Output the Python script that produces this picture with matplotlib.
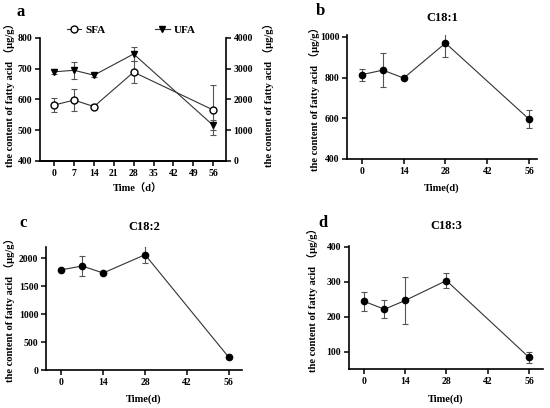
import matplotlib
matplotlib.use("Agg")
import matplotlib.pyplot as plt
import numpy as np

plt.rcParams['font.family'] = ['Liberation Serif', 'Noto Sans CJK SC', 'DejaVu Sans']
plt.rcParams['font.weight'] = 'bold'

# data
days = [0, 7, 14, 28, 56]
sfa = [582, 598, 577, 689, 566]
sfa_err = [24, 35, 8, 35, 80]
ufa = [2900, 2950, 2790, 3480, 1160]
ufa_err = [80, 280, 60, 230, 160]
c181 = [815, 837, 798, 970, 596]
c181_err = [30, 82, 6, 70, 45]
c182 = [1792, 1860, 1735, 2062, 225]
c182_err = [20, 180, 15, 150, 15]
c183 = [244, 221, 246, 303, 83]
c183_err = [27, 26, 68, 21, 17]

ylab = "the content of fatty acid （μg/g）"
fs = 7
lfs = 7.6
lc = '#333333'
ec = '#555555'

def style(ax, spines=('left', 'bottom')):
    for s in ['left', 'right', 'top', 'bottom']:
        if s in spines:
            ax.spines[s].set_linewidth(1.2)
        else:
            ax.spines[s].set_visible(False)
    ax.tick_params(direction='out', length=3.5, width=1.1, labelsize=fs, pad=2)
    for t in ax.get_xticklabels() + ax.get_yticklabels():
        t.set_fontweight('bold')

def draw(ax, y, yerr):
    ax.errorbar(days, y, yerr=yerr, fmt='none', ecolor=ec, elinewidth=0.8, capsize=2.5, capthick=0.8)
    ax.plot(days, y, color=lc, lw=0.8, marker='o', markersize=4.5, markerfacecolor='black', markeredgecolor='black')

fig = plt.figure(figsize=(5.5, 4.08), dpi=100)

# panel a
ax0 = fig.add_axes([0.0727, 0.6054, 0.338, 0.3015])
ax1 = ax0.twinx()
ax0.errorbar(days, sfa, yerr=sfa_err, fmt='none', ecolor=ec, elinewidth=0.8, capsize=2.5, capthick=0.8)
l1, = ax0.plot(days, sfa, color=lc, lw=0.8, marker='o', markersize=5, markerfacecolor='white', markeredgecolor='black', markeredgewidth=1)
ax1.errorbar(days, ufa, yerr=ufa_err, fmt='none', ecolor=ec, elinewidth=0.8, capsize=2.5, capthick=0.8)
l2, = ax1.plot(days, ufa, color=lc, lw=0.8, marker='v', markersize=4.5, markerfacecolor='black', markeredgecolor='black')
ax0.set_xlim(-5, 60.5)
ax0.set_ylim(400, 800)
ax1.set_ylim(0, 4000)
ax0.set_xticks(np.arange(0, 57, 7))
ax0.set_yticks([400, 500, 600, 700, 800])
ax1.set_yticks([0, 1000, 2000, 3000, 4000])
style(ax0, ('left', 'bottom'))
style(ax1, ('right', 'bottom'))
ax0.set_ylabel(ylab, fontsize=lfs, fontweight='bold')
ax0.yaxis.set_label_coords(-0.134, 0.56)
ax1.set_ylabel(ylab, fontsize=lfs, fontweight='bold')
ax1.yaxis.set_label_coords(1.199, 0.56)
ax0.set_xlabel("Time（d）", fontsize=fs + 0.5, fontweight='bold')
ax0.xaxis.set_label_coords(0.527, -0.187)
leg = ax0.legend([l1, l2], ['SFA', 'UFA'], loc='lower center', bbox_to_anchor=(0.49, 0.985), ncol=2,
                 frameon=False, fontsize=8, handlelength=1.3, columnspacing=4.5, handletextpad=0.35, borderaxespad=0)

# panels b, c, d
panels = [
    ([0.631, 0.6103, 0.3455, 0.304], c181, c181_err, (-5, 58.7), (400, 1010), [400, 600, 800, 1000], 'C18:1', -0.142, 0.5, -0.194, 1.137),
    ([0.0836, 0.0931, 0.356, 0.3015], c182, c182_err, (-5.1, 60.3), (0, 2200), [0, 500, 1000, 1500, 2000], 'C18:2', -0.158, 0.51, -0.195, 1.163),
    ([0.6345, 0.0956, 0.3527, 0.3015], c183, c183_err, (-5, 60.7), (50, 402), [100, 200, 300, 400], 'C18:3', -0.16, 0.585, -0.203, 1.163),
]
for rect, y, yerr, xl, yl, yt, title, lx, ly, xly, ty in panels:
    ax = fig.add_axes(rect)
    draw(ax, y, yerr)
    ax.set_xlim(*xl)
    ax.set_ylim(*yl)
    ax.set_xticks([0, 14, 28, 42, 56])
    ax.set_yticks(yt)
    style(ax)
    ax.set_ylabel(ylab, fontsize=lfs, fontweight='bold')
    ax.yaxis.set_label_coords(lx, ly)
    ax.set_xlabel("Time(d)", fontsize=fs + 0.5, fontweight='bold')
    ax.xaxis.set_label_coords(0.5, xly)
    ax.text(0.5, ty, title, transform=ax.transAxes, ha='center', va='center', fontsize=fs + 2, fontweight='bold')

for lab, x, y in [('a', 21, 12), ('b', 320, 11), ('c', 23, 223), ('d', 323, 223)]:
    fig.text(x / 550, 1 - y / 408, lab, ha='center', va='center', fontsize=12, fontweight='bold')

fig.savefig('out.png', dpi=100)
